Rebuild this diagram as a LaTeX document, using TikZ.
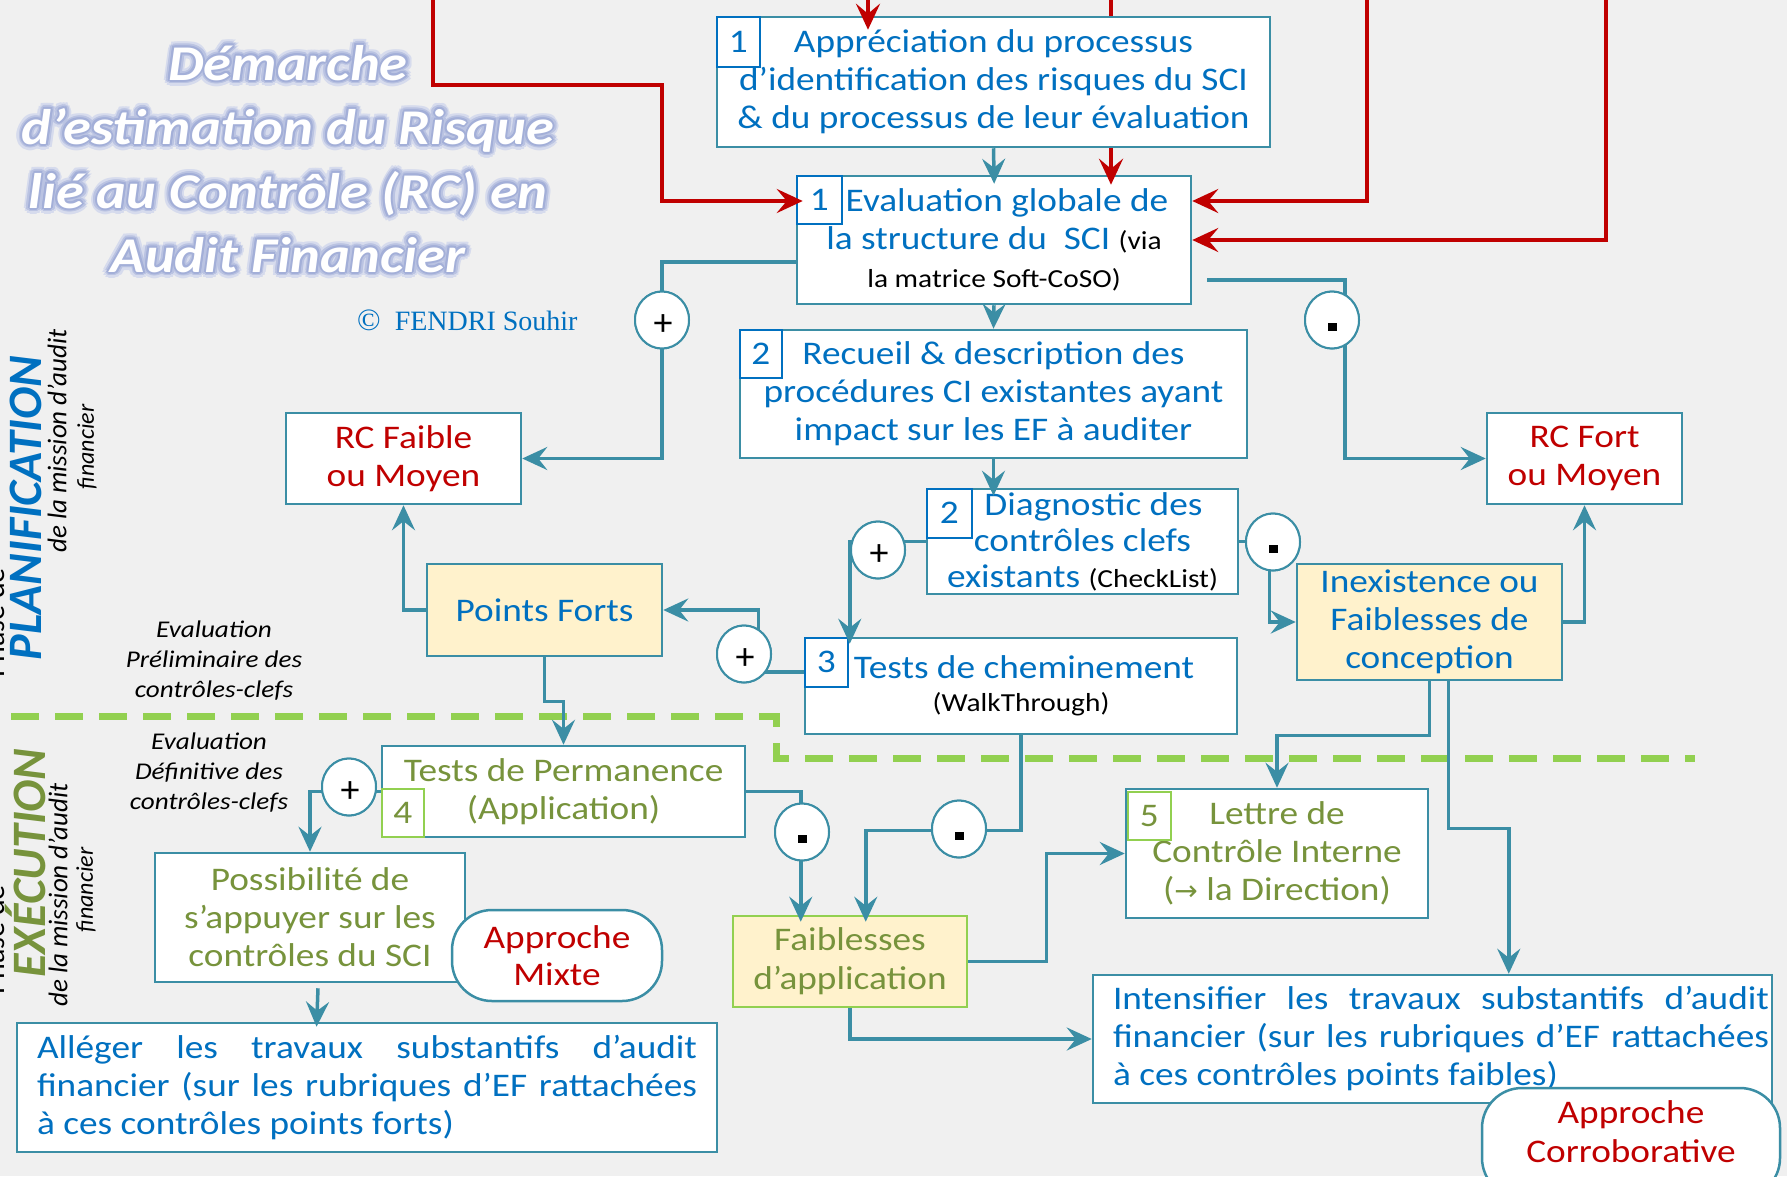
\documentclass[tikz,border=0pt]{standalone}
\usepackage{fontspec}
\usepackage{graphicx}
\setmainfont{Carlito}[FakeStretch=1.13]
\newfontfamily\nostr{Carlito}
\newfontfamily\serifff{Liberation Serif}
\newfontfamily\dejavu{DejaVu Sans}
\usetikzlibrary{shapes.geometric,arrows.meta,calc}
\definecolor{bgc}{HTML}{F0F0F0}
\definecolor{tealc}{HTML}{3B8EA5}
\definecolor{bluec}{HTML}{0070C0}
\definecolor{redc}{HTML}{C00000}
\definecolor{olivec}{HTML}{77933C}
\definecolor{yellowc}{HTML}{FFF2CC}
\definecolor{lgreen}{HTML}{92D050}
\definecolor{glowc}{HTML}{A3AFD8}
\newcommand{\fsz}[2]{\fontsize{#1}{#2}\selectfont}
\newcommand{\glowline}[4]{%
  \foreach \gang in {0,30,...,330}{\node[ttl, text=glowc!45] (#1a\gang) at ($(#2,#3)+(\gang:6)$) {#4};}%
  \foreach \gang in {15,45,...,345}{\node[ttl, text=glowc!75] (#1b\gang) at ($(#2,#3)+(\gang:4)$) {#4};}%
  \foreach \gang in {0,45,...,315}{\node[ttl, text=glowc] (#1c\gang) at ($(#2,#3)+(\gang:2)$) {#4};}%
  \node[ttl, text=white] (#1) at (#2,#3) {#4};%
}
\begin{document}
\begin{tikzpicture}[x=1pt,y=-1pt,
  box/.style={draw=tealc, line width=2.5pt, fill=white, inner sep=0pt, align=center, text=bluec, font=\fsz{33}{38}},
  ybox/.style={box, fill=yellowc},
  numb/.style={draw=bluec, line width=2pt, inner sep=0pt, text=bluec, font=\fsz{33}{38}, minimum width=43, minimum height=49},
  gnumb/.style={numb, draw=lgreen, text=olivec},
  circ/.style={ellipse, draw=tealc, line width=2pt, fill=white, minimum width=54, minimum height=57, inner sep=0pt},
  tarr/.style={draw=tealc, line width=3.5pt, -{Stealth[length=25pt, width=23pt, inset=9pt]}},
  rarr/.style={draw=redc, line width=4pt, -{Stealth[length=26pt, width=24pt, inset=10pt]}},
  rline/.style={draw=redc, line width=4pt},
  pill/.style={draw=tealc, line width=2.5pt, fill=white, rounded corners=40pt, inner sep=0pt, align=center, text=redc, font=\fsz{33}{37}},
  ttl/.style={anchor=base, inner sep=0pt, font=\bfseries\itshape\fsz{50}{60}},
  evtxt/.style={align=center, inner sep=0pt, font=\itshape\fsz{24}{30}},
  side/.style={rotate=90, inner sep=0pt, font=\nostr\itshape\fsz{27}{29}},
  sidef/.style={rotate=90, inner sep=0pt, font=\nostr\itshape\fsz{24}{29}},
  big/.style={rotate=90, inner sep=0pt, font=\nostr\bfseries\itshape\fsz{48}{48}},
  dashln/.style={draw=lgreen, line width=7pt, dash pattern=on 28pt off 16pt},
  over/.style={shorten >=-#1pt},
]
\fill[bgc] (0,0) rectangle (1787,1176);
\useasboundingbox (0,0) rectangle (1787,1176);

% phase separator
\coordinate (d1) at (11,716);
\coordinate (d2) at (1695,758);
\draw[dashln] (d1) -- (776,716) -- (776,758) -- (d2);

% title
\glowline{t1}{288}{80}{Démarche}
\glowline{t2}{288}{144}{d’estimation du Risque}
\glowline{t3}{288}{208}{lié au Contrôle (RC) en}
\glowline{t4}{288}{272}{Audit Financier}
\node[anchor=base west, inner sep=0pt, text=bluec, font=\serifff\fsz{28}{30}] (cr) at (357,330) {{\fsz{31}{31}©}\enspace FENDRI Souhir};

% side labels
\node[rotate=90, anchor=base, inner sep=0pt, font=\nostr\fsz{30}{30}] (ph1) at (5,623) {Phase de};
\node[big, text=bluec] (plan) at (26,508) {PLANIFICATION};
\node[side] (plan2) at (57,441) {de la mission d’audit};
\node[sidef] (plan3) at (87,447) {financier};
\node[rotate=90, anchor=base, inner sep=0pt, font=\nostr\fsz{30}{30}] (ph2) at (5,940) {Phase de};
\node[big, text=olivec] (exe) at (26,863) {EXÉCUTION};
\node[side] (exe2) at (58,895) {de la mission d’audit};
\node[sidef] (exe3) at (86,890) {financier};

\node[evtxt] (evp) at (214,661) {Evaluation\\Préliminaire des\\contrôles-clefs};
\node[evtxt] (evd) at (209,773) {Evaluation\\Définitive des\\contrôles-clefs};

% boxes
\node[box, minimum width=553, minimum height=130] (A) at (993.5,82) {Appréciation du processus\\d’identification des risques du SCI\\\& du processus de leur évaluation};
\node[box, minimum width=394, minimum height=128] (B) at (994,240) {\hspace*{26pt}Evaluation globale de\\la structure du\ \ SCI {\color{black}\fsz{26}{38}(via}\\{\color{black}\fsz{26}{38}la matrice Soft-CoSO)}};
\node[box, minimum width=507, minimum height=128] (C) at (993.5,394) {Recueil \& description des\\procédures CI existantes ayant\\impact sur les EF à auditer};
\node[box, minimum width=311, minimum height=105, font=\fsz{33}{36}] (D) at (1082.5,541.5) {\hspace*{22pt}Diagnostic des\\contrôles clefs\\existants {\color{black}\fsz{26}{36}(CheckList)}};
\node[box, minimum width=235, minimum height=91, text=redc] (E) at (403.5,458.5) {RC Faible\\ou Moyen};
\node[box, minimum width=195, minimum height=91, text=redc] (F) at (1584.5,458.5) {RC Fort\\ou Moyen};
\node[ybox, minimum width=235, minimum height=92] (PF) at (544.5,610) {Points Forts};
\node[box, minimum width=432, minimum height=96, font=\fsz{33}{33}] (G) at (1021,686) {\hspace*{6pt}Tests de cheminement\\{\color{black}\fsz{26}{33}(WalkThrough)}};
\node[ybox, minimum width=265, minimum height=116] (H) at (1429.5,622) {Inexistence ou\\Faiblesses de\\conception};
\node[box, minimum width=363, minimum height=91, text=olivec] (Perm) at (563.5,791.5) {Tests de Permanence\\(Application)};
\node[box, minimum width=310, minimum height=129, text=olivec] (Poss) at (310,917.5) {Possibilité de\\s’appuyer sur les\\contrôles du SCI};
\node[box, minimum width=700, minimum height=129, text width=660, align=justify] (Al) at (367,1087.5) {Alléger les travaux substantifs d’audit\linebreak financier (sur les rubriques d’EF rattachées\linebreak à ces contrôles points forts)};
\node[ybox, draw=lgreen, minimum width=234, minimum height=91, text=olivec, font=\fsz{33}{39}] (FA) at (850,961.5) {Faiblesses\\d’application};
\node[box, minimum width=302, minimum height=129, text=olivec] (L) at (1277,853.5) {Lettre de\\Contrôle Interne\\({\dejavu\fsz{28}{38}→} la Direction)};
\node[box, minimum width=679, minimum height=128] (Int) at (1432.5,1039) {};
\node[inner sep=0pt, text width=656, align=justify, text=bluec, font=\fsz{33}{38}] (IntT) at (1441,1039) {Intensifier les travaux substantifs d’audit\linebreak financier (sur les rubriques d’EF rattachées\linebreak à ces contrôles points faibles)};

% number tags
\node[numb, anchor=north west, minimum height=50] (nA) at (A.north west) {1};
\node[numb, anchor=north west, minimum width=45, minimum height=48] (nB) at (B.north west) {1};
\node[numb, anchor=north west, minimum width=42, minimum height=48] (nC) at (C.north west) {2};
\node[numb, anchor=north west, minimum width=45] (nD) at (D.north west) {2};
\node[numb, anchor=north west] (nG) at (G.north west) {3};
\node[gnumb, anchor=south west, minimum width=42, minimum height=48] (n4) at (Perm.south west) {4};
\node[gnumb, anchor=north west, minimum height=48] (n5) at ($(L.north west)+(2,3)$) {5};

% circle positions
\node[circ] (p1) at (662,320) {};
\node[circ] (m1) at (1332,320) {};
\node[circ] (p2) at (878,550) {};
\node[circ] (m2) at (1273,542) {};
\node[circ] (p3) at (744,654) {};
\node[circ] (p4) at (349,787) {};
\node[circ] (m3) at (802,832) {};
\node[circ] (m4) at (959,829) {};

% teal connectors
\coordinate (bs) at (1207,280);
\draw[tarr, over=9] (A.south) -- (B.north);
\draw[tarr] (B.south) -- (C.north);
\draw[tarr, over=8] (C.south) -- (C.south |- D.north);
\draw[tarr] ([yshift=-22pt]B.west) -| (p1.center) |- (E.east);
\draw[tarr] (bs) -| ($(m1.center)+(13,0)$) |- (F.west);
\draw[tarr, over=7] (D.west) -| ($(G.north west)+(46,0)$);
\draw[tarr] (D.east) -- ++(30,0) |- (H.west);
\draw[tarr] (H.east) -| (F.south);
\draw[tarr] ([yshift=14pt]G.west) -| ($(PF.east)+(95,0)$) -- (PF.east);
\draw[tarr] (PF.west) -| (E.south);
\draw[tarr] (PF.south) -- ++(0,44) -| (Perm.north);
\draw[tarr] (Perm.west) -| (Poss.north);
\draw[tarr, over=7] (Perm.east) -| ($(FA.north west)+(69,0)$);
\draw[tarr, over=7] (G.south) -- ++(0,95) -| ($(FA.north west)+(134,0)$);
\draw[tarr] (H.south) -- ++(0,54) -| (L.north);
\draw[tarr] ($(H.south)+(19,0)$) -- ++(0,147) -| ($(Int.north west)+(417,0)$);
\draw[tarr] (FA.east) -- ++(78,0) |- (L.west);
\draw[tarr] (FA.south) |- (Int.west);
\draw[tarr, over=5] ($(Poss.south)+(8,5)$) -- ($(Al.north west)+(301,0)$);

% red connectors
\coordinate (r1s) at (433,-3);
\coordinate (r2s) at (868,-3);
\coordinate (r3s) at (1111,-3);
\coordinate (r4s) at (1367,-3);
\coordinate (r5s) at (1606,-3);
\draw[rarr, over=7] (r1s) |- (662,85) |- ([yshift=39pt]B.west);
\draw[rarr, over=14] (r2s) -- (r2s |- A.north);
\draw[rline] (r3s) -- (r3s |- A.north);
\draw[rarr, over=10] (A.south -| r3s) -- (B.north -| r3s);
\draw[rarr] (r4s) |- ([yshift=39pt]B.east);
\draw[rarr] (r5s) |- (B.east);

% circles on top
\foreach \c in {p1,m1,p2,m2,p3,p4,m3,m4}{\node[circ] (\c-o) at (\c) {};}
\foreach \c in {p1,p2,p3,p4}{\node[font=\nostr\fsz{38}{38}, inner sep=0pt] (\c-s) at ($(\c)+(1,5)$) {+};}
\foreach \c in {m1,m2,m3,m4}{\fill ($(\c)+(-4.5,3)$) rectangle ($(\c)+(4.5,11)$);}

% approach pills
\node[pill, minimum width=210, minimum height=91] (Mx) at (557,955.5) {Approche\\Mixte};
\node[pill, minimum width=298, minimum height=110] (Corr) at (1631,1143) {};
\node[align=center, text=redc, font=\fsz{33}{39}, inner sep=0pt] (CorrT) at (1631,1131.5) {Approche\\Corroborative};
\end{tikzpicture}
\end{document}
